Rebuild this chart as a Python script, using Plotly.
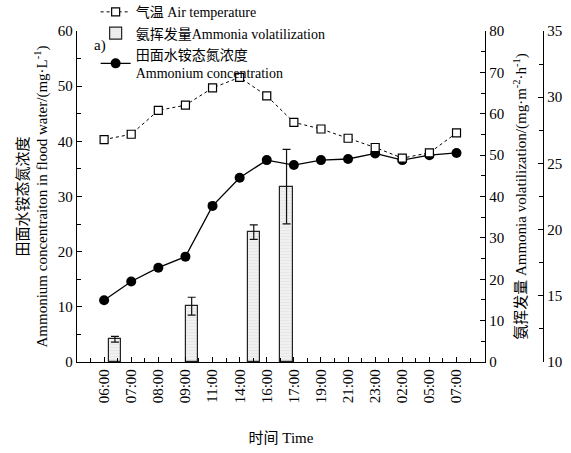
import plotly.graph_objects as go

# ---------------- data ----------------
time_labels = ["06:00", "07:00", "08:00", "09:00", "11:00", "14:00", "16:00",
               "17:00", "19:00", "21:00", "23:00", "02:00", "05:00", "07:00"]
time_pos = list(range(1, len(time_labels) + 1))

ammonium = [11.2, 14.6, 17.1, 19.1, 28.3, 33.4, 36.6, 35.7, 36.6, 36.8, 37.8, 36.6, 37.5, 37.9]
air_temp = [26.8, 27.2, 29.0, 29.4, 30.7, 31.5, 30.1, 28.1, 27.6, 26.9, 26.2, 25.4, 25.8, 27.3]

volat_pos = [1.40, 4.23, 6.52, 7.73]
volat = [5.5, 13.5, 31.4, 42.4]
volat_err = [0.7, 2.15, 1.75, 9.0]

FONT = "Liberation Serif, Times New Roman, Noto Sans CJK SC, serif"

fig = go.Figure()

# bars (main y axis = right, 0-80)
fig.add_trace(go.Bar(
    x=volat_pos, y=volat, width=0.45, yaxis="y", xaxis="x",
    name="氨挥发量Ammonia volatilization",
    marker=dict(color="#eeeeee", line=dict(color="#222222", width=1.2),
                pattern=dict(shape="-", fgcolor="#dcdcdc", bgcolor="#f0f0f0", size=3, solidity=0.3)),
    error_y=dict(type="data", array=volat_err, color="#111111", thickness=1.2, width=4),
    legendrank=2,
))

# ammonium (left axis)
fig.add_trace(go.Scatter(
    x=time_pos, y=ammonium, yaxis="y2", mode="lines+markers",
    name="田面水铵态氮浓度<br>Ammonium concentration",
    line=dict(color="black", width=1.3),
    marker=dict(symbol="circle", size=10, color="black"),
    legendrank=3,
))

# air temperature (second right axis)
fig.add_trace(go.Scatter(
    x=time_pos, y=air_temp, yaxis="y3", mode="lines+markers",
    name="气温 Air temperature",
    line=dict(color="black", width=1, dash="dot"),
    marker=dict(symbol="square", size=8, color="white", line=dict(color="black", width=1.2)),
    legendrank=1,
))

minor_x = [i + 0.5 for i in range(0, 15)]

fig.update_layout(
    width=571, height=453,
    margin=dict(l=77, r=28, t=31, b=91, autoexpand=False),
    paper_bgcolor="white", plot_bgcolor="white",
    font=dict(family=FONT, size=15, color="black"),
    showlegend=True,
    legend=dict(x=0.04, y=1.105, xanchor="left", yanchor="top",
                bgcolor="rgba(0,0,0,0)", font=dict(size=14, family=FONT),
                tracegroupgap=0, itemwidth=30),
    bargap=0,
    xaxis=dict(
        domain=[0, 0.8755], range=[0, 15.05],
        tickmode="array", tickvals=time_pos, ticktext=time_labels, tickangle=-90,
        ticks="inside", ticklen=5, tickcolor="black", showline=True, linecolor="black",
        linewidth=1.3, showgrid=False, zeroline=False,
        minor=dict(tickmode="array", tickvals=minor_x, ticks="inside", ticklen=4, tickcolor="black"),
        title=dict(text="时间 Time", font=dict(size=15), standoff=30),
    ),
    yaxis=dict(
        side="right", anchor="x", range=[0, 80], dtick=10,
        ticks="inside", ticklen=5, tickcolor="black", showline=True, linecolor="black",
        linewidth=1.3, showgrid=False, zeroline=False,
        minor=dict(dtick=5, ticks="inside", ticklen=4, tickcolor="black"),
        title=dict(text="氨挥发量 Ammonia volatilization/(mg·m<sup>-2</sup>·h<sup>-1</sup>)",
                   font=dict(size=15), standoff=12),
    ),
    yaxis2=dict(
        overlaying="y", side="left", anchor="x", range=[0, 60], dtick=10,
        ticks="inside", ticklen=5, tickcolor="black", showline=True, linecolor="black",
        linewidth=1.3, showgrid=False, zeroline=False,
        minor=dict(dtick=5, ticks="inside", ticklen=4, tickcolor="black"),
        title=dict(text="田面水铵态氮浓度<br>Ammonium concentraiton in flood water/(mg·L<sup>-1</sup>)",
                   font=dict(size=15), standoff=6),
    ),
    yaxis3=dict(
        overlaying="y", side="right", anchor="free", position=1.0, range=[10, 35], dtick=5,
        ticks="inside", ticklen=5, tickcolor="black", showline=True, linecolor="black",
        linewidth=1.3, showgrid=False, zeroline=False,
        minor=dict(dtick=2.5, ticks="inside", ticklen=4, tickcolor="black"),
    ),
    annotations=[dict(text="a)", x=0.032, y=0.955, xref="paper", yref="paper",
                      showarrow=False, xanchor="left", yanchor="middle", font=dict(size=15))],
)

fig.write_html("out.html")
